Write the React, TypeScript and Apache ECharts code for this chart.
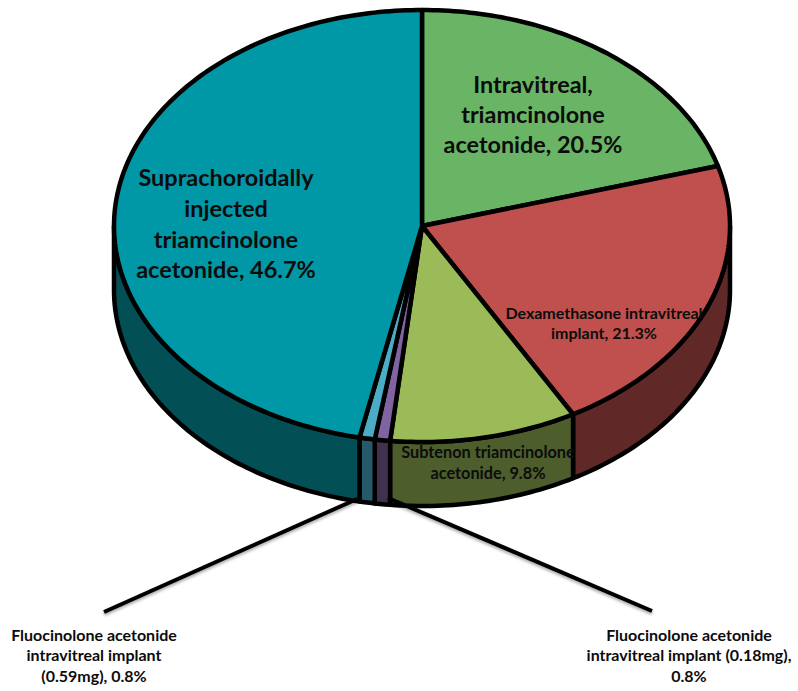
import React, { useEffect, useRef } from "react";
import * as echarts from "echarts";

// Regimen names and their share of the reports, clockwise from twelve o'clock.
const categories = [
  "Intravitreal, triamcinolone acetonide",
  "Dexamethasone intravitreal implant",
  "Subtenon triamcinolone acetonide",
  "Fluocinolone acetonide intravitreal implant (0.18mg)",
  "Fluocinolone acetonide intravitreal implant (0.59mg)",
  "Suprachoroidally injected triamcinolone acetonide",
];
const shares = [20.5, 21.3, 9.8, 0.8, 0.8, 46.7];
const topColors = ["#69B465", "#C0504D", "#9BBB59", "#8064A2", "#4BACC6", "#0098A6"];
const sideColors = ["#355A32", "#602826", "#4D5D2C", "#40314F", "#255A6B", "#024F56"];

// Projected pie geometry: an ellipse for the lid and a vertical wall beneath it.
const CX = 422;
const CY = 226;
const RX = 308;
const RY = 216;
const DEPTH = 64;
const EDGE = 4.5;

const rim = (deg: number, dy = 0): number[] => {
  const t = (deg * Math.PI) / 180;
  return [CX + RX * Math.sin(t), CY + dy - RY * Math.cos(t)];
};

const arc = (from: number, to: number, dy = 0): number[][] => {
  const n = Math.max(2, Math.ceil(Math.abs(to - from)));
  const pts: number[][] = [];
  for (let i = 0; i <= n; i++) pts.push(rim(from + ((to - from) * i) / n, dy));
  return pts;
};

const total = shares.reduce((a, b) => a + b, 0);
const wedges = shares.map((v, i) => {
  const before = shares.slice(0, i).reduce((a, b) => a + b, 0);
  return {
    name: categories[i],
    value: [(before / total) * 360, ((before + v) / total) * 360],
  };
});

const outline = { stroke: "#000", lineWidth: EDGE, lineJoin: "round" as const };

const renderWall = (params: any, api: any) => {
  const from = Math.max(api.value(0), 90);
  const to = Math.min(api.value(1), 270);
  if (to <= from) return null;
  const points = [...arc(from, to), ...arc(to, from, DEPTH)];
  return {
    type: "polygon",
    shape: { points },
    style: { fill: sideColors[params.dataIndex], ...outline },
  };
};

const renderLid = (params: any, api: any) => ({
  type: "polygon",
  shape: { points: [[CX, CY], ...arc(api.value(0), api.value(1))] },
  style: { fill: topColors[params.dataIndex], ...outline },
});

const FONT = "Lato, Carlito, sans-serif";

const caption = (text: string, x: number, y: number, size: number, lineHeight: number) => ({
  type: "text",
  z: 100,
  style: {
    text,
    x,
    y,
    fill: "#0c0c0c",
    align: "center",
    verticalAlign: "top",
    textAlign: "center",
    textVerticalAlign: "top",
    fontFamily: FONT,
    fontWeight: "bold",
    fontSize: size,
    lineHeight,
  },
});

const leader = (x1: number, y1: number, x2: number, y2: number) => ({
  type: "line",
  z: 90,
  shape: { x1, y1, x2, y2 },
  style: {
    stroke: "#000",
    lineWidth: 4,
    shadowBlur: 3,
    shadowColor: "rgba(0,0,0,0.35)",
    shadowOffsetY: 2,
  },
});

export default function App() {
  const host = useRef<HTMLDivElement>(null);

  useEffect(() => {
    const chart = echarts.init(host.current!, null, { renderer: "svg" });
    chart.setOption({
      animation: false,
      backgroundColor: "#fff",
      series: [
        {
          type: "custom",
          coordinateSystem: "none",
          z: 1,
          silent: true,
          data: wedges,
          renderItem: renderWall,
        },
        {
          type: "custom",
          coordinateSystem: "none",
          z: 2,
          silent: true,
          data: wedges,
          renderItem: renderLid,
        },
      ],
      graphic: [
        leader(357, 499, 104, 612),
        leader(388, 498, 652, 611),
        caption("Intravitreal,\ntriamcinolone\nacetonide, 20.5%", 533, 69, 23.4, 30),
        caption("Suprachoroidally\ninjected\ntriamcinolone\nacetonide, 46.7%", 226, 162, 23.5, 30.7),
        caption("Dexamethasone intravitreal\nimplant, 21.3%", 604, 302, 16, 20.5),
        caption("Subtenon triamcinolone\nacetonide, 9.8%", 488, 441, 16.3, 21),
        caption("Fluocinolone acetonide\nintravitreal implant\n(0.59mg), 0.8%", 94, 624, 16, 20.5),
        caption("Fluocinolone acetonide\nintravitreal implant (0.18mg),\n0.8%", 689, 624, 16, 20.5),
      ],
    });
    return () => chart.dispose();
  }, []);

  return (
    <div
      ref={host}
      style={{ position: "absolute", left: 0, top: 0, width: 798, height: 691 }}
    />
  );
}
